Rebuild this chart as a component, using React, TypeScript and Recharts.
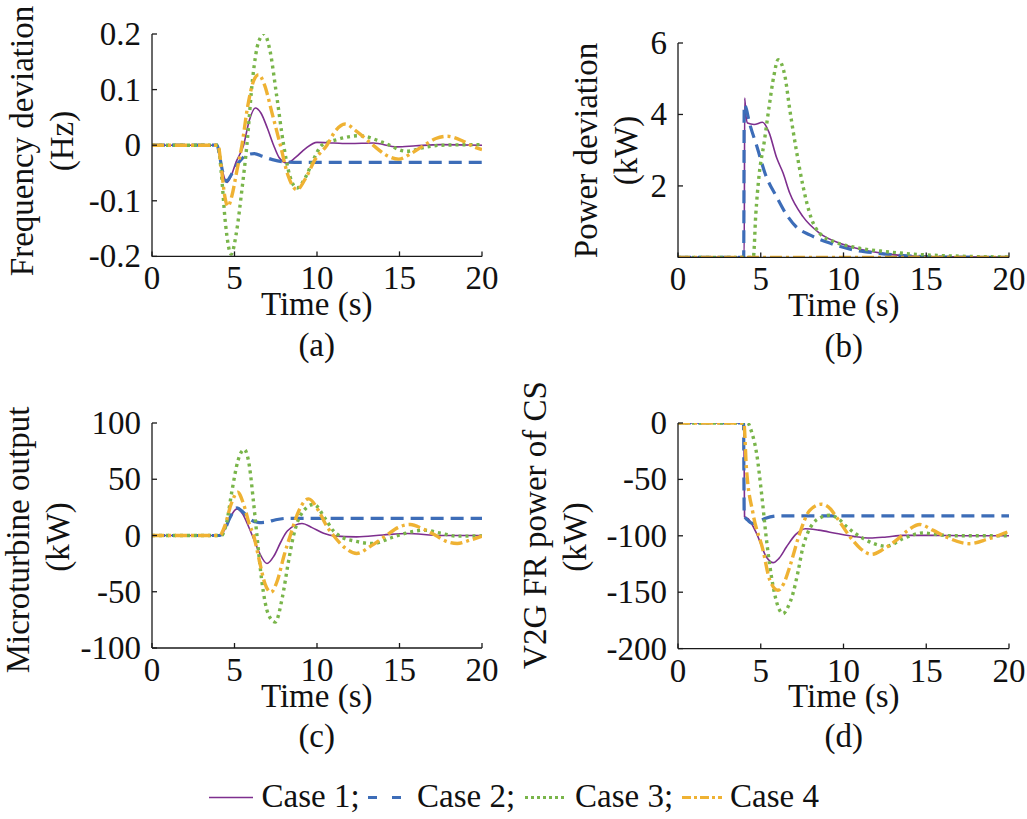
import React from 'react';
import { LineChart, Line, XAxis, YAxis } from 'recharts';

type Pt = [number, number];

// ---------- tick labels ----------
const TIME_TICKS = [0, 5, 10, 15, 20];
const FREQ_TICKS = [-0.2, -0.1, 0, 0.1, 0.2];
const POWER_TICKS = [2, 4, 6];
const MT_TICKS = [-100, -50, 0, 50, 100];
const V2G_TICKS = [-200, -150, -100, -50, 0];
const CASE_NAMES = ['Case 1;', 'Case 2;', 'Case 3;', 'Case 4'];

// ---------- (a) frequency deviation (Hz) ----------
const freqCase1: Pt[] = [[0,0],[3.95,0],[4.1,-0.02],[4.3,-0.05],[4.55,-0.067],[4.8,-0.055],[5.1,-0.03],[5.55,0],[5.9,0.045],[6.26,0.067],[6.6,0.058],[7.0,0.03],[7.37,0],[7.7,-0.022],[8.18,-0.032],[8.7,-0.022],[9.3,-0.006],[10.0,0.005],[11,0.004],[12,0.003],[13.4,0.004],[14.85,-0.003],[16,-0.001],[17.5,0.001],[20,0]];
const freqCase2: Pt[] = [[0,0],[3.95,0],[4.1,-0.02],[4.3,-0.05],[4.5,-0.065],[4.75,-0.056],[5.0,-0.042],[5.4,-0.026],[5.8,-0.017],[6.2,-0.015],[6.7,-0.02],[7.3,-0.026],[8,-0.03],[9,-0.031],[20,-0.031]];
const freqCase3: Pt[] = [[0,0],[4.0,0],[4.2,-0.05],[4.45,-0.14],[4.8,-0.196],[5.1,-0.16],[5.45,-0.08],[5.75,0],[6.1,0.12],[6.45,0.185],[6.8,0.2],[7.15,0.17],[7.55,0.09],[7.98,0],[8.35,-0.055],[8.79,-0.077],[9.3,-0.058],[9.8,-0.025],[10.3,0],[11.2,0.01],[12.6,0.017],[14,0.005],[15.45,-0.011],[16.5,-0.004],[17.5,0],[20,0.001]];
const freqCase4: Pt[] = [[0,0],[4.0,0],[4.2,-0.04],[4.4,-0.09],[4.6,-0.11],[4.85,-0.09],[5.15,-0.045],[5.45,0],[5.8,0.07],[6.15,0.115],[6.46,0.127],[6.8,0.11],[7.3,0.055],[7.78,0],[8.25,-0.055],[8.79,-0.08],[9.3,-0.06],[9.9,-0.025],[10.6,0],[11.1,0.025],[11.7,0.038],[12.4,0.025],[13.4,0],[14.2,-0.018],[14.95,-0.025],[15.7,-0.015],[16.5,0],[17.2,0.012],[17.9,0.016],[18.8,0.008],[19.5,-0.003],[20,-0.008]];

// ---------- (b) power deviation (kW) ----------
const powCase1: Pt[] = [[0,0],[4.0,0],[4.03,4.46],[4.1,4.0],[4.2,3.76],[4.6,3.72],[5.1,3.78],[5.5,3.5],[5.95,2.8],[6.35,2.36],[6.75,1.8],[7.55,1.14],[8.55,0.68],[10,0.36],[11.6,0.17],[13.6,0.05],[15.6,0.02],[20,0.005]];
const powCase2: Pt[] = [[0,0],[3.97,0],[4.0,4.27],[4.1,4.2],[4.3,3.8],[4.75,3.13],[5.3,2.3],[5.95,1.7],[6.55,1.2],[7.15,0.85],[7.96,0.63],[9.17,0.4],[10.4,0.23],[12,0.12],[13.6,0.05],[15,0.02],[20,0]];
const powCase3: Pt[] = [[0,0],[4.55,0],[4.7,1.2],[4.9,2.3],[5.2,3.2],[5.5,4.2],[5.8,5.1],[6.05,5.53],[6.45,5.1],[6.75,4.15],[7.15,3.0],[7.55,2.0],[8.05,1.1],[8.55,0.68],[9.55,0.42],[10.8,0.27],[12.6,0.16],[14.6,0.08],[16.6,0.04],[20,0.01]];
const powCase4: Pt[] = [[0,0],[20,0]];

// ---------- (c) microturbine output (kW) ----------
const mtCase1: Pt[] = [[0,0],[4.1,0],[4.4,5],[4.7,15],[5.15,23.7],[5.5,19],[5.85,8],[6.16,-3],[6.5,-15],[6.97,-24.9],[7.4,-18],[7.8,-6],[8.2,4],[9.09,10.7],[9.7,7],[10.4,2],[11,-0.3],[12.4,-1.2],[14,0.5],[15.45,1.8],[17.5,0],[20,0]];
const mtCase2: Pt[] = [[0,0],[4.1,0],[4.4,5],[4.7,15],[5.15,24.5],[5.5,21],[6.0,14],[6.5,11.5],[6.9,11.8],[7.5,14],[8.2,15.3],[9,15.2],[20,15.2]];
const mtCase3: Pt[] = [[0,0],[4.2,0],[4.5,10],[4.85,40],[5.2,66],[5.59,76.4],[5.9,62],[6.15,30],[6.36,0],[6.65,-40],[7.05,-70],[7.47,-77],[7.9,-55],[8.25,-25],[8.58,0],[9.0,18],[9.8,27.6],[10.5,15],[11.0,4],[11.4,-0.6],[12.3,-5],[13.4,-7.1],[14.5,-2],[15.5,2.5],[16.5,4.7],[17.5,2],[18.5,-0.6],[20,-0.3]];
const mtCase4: Pt[] = [[0,0],[4.1,0],[4.4,8],[4.8,28],[5.19,38.5],[5.55,28],[5.9,10],[6.16,0],[6.5,-22],[6.85,-43],[7.21,-50.4],[7.6,-40],[8.0,-18],[8.38,0],[8.9,22],[9.49,32.6],[10.1,22],[10.6,8],[11.0,0],[11.7,-11],[12.4,-16],[13.3,-9],[14.2,0],[14.9,7],[15.65,9.8],[16.4,6],[17.2,0],[17.8,-5],[18.5,-7.1],[19.3,-4],[20,-0.6]];

// ---------- (d) V2G FR power of CS (kW) ----------
const v2gCase1: Pt[] = [[0,0],[3.98,0],[4.02,-83],[4.25,-85],[4.75,-98],[5.35,-119],[5.75,-123.8],[6.1,-120],[6.55,-110],[7.1,-99],[7.7,-93.7],[8.5,-95],[9.6,-98],[10.6,-100.5],[11.6,-102],[12.6,-101],[13.6,-99.6],[15.6,-99.6],[17.5,-100],[20,-100]];
const v2gCase2: Pt[] = [[0,0],[3.96,0],[4.0,-82],[4.2,-86],[4.5,-89],[4.9,-87],[5.3,-84.5],[6.1,-82.3],[20,-82.3]];
const v2gCase3: Pt[] = [[0,0],[4.2,0],[4.45,-8],[4.75,-27],[5.05,-62.6],[5.35,-104],[5.75,-145],[6.05,-163],[6.35,-169],[6.65,-163],[6.95,-151],[7.25,-132],[7.55,-110],[7.85,-97],[8.16,-89],[8.6,-84],[9.17,-81.8],[9.7,-85],[10.2,-92],[11.2,-102.5],[12.6,-109.3],[13.6,-102.5],[14.8,-97.5],[15.7,-99],[16.6,-100],[20,-100]];
const v2gCase4: Pt[] = [[0,0],[3.98,0],[4.13,-39],[4.53,-80],[5.14,-112.9],[5.54,-139],[6.04,-148.3],[6.4,-142],[6.75,-127.6],[7.35,-98],[7.96,-77.4],[8.66,-72],[9.2,-76],[9.57,-83.3],[10.4,-101],[11.0,-111],[11.7,-116.4],[12.4,-112],[13.2,-103.9],[13.9,-95],[14.6,-90],[15.4,-95],[16.2,-101],[17.6,-107],[18.7,-103],[19.9,-96.6]];

// ---------- styles ----------
const AXIS = '#1a1a1a';
const FONT_FAMILY = '"Liberation Serif", "Times New Roman", Times, serif';
const FS = 33;
const SERIES = [
  { stroke: '#7E2F8E', strokeWidth: 1.6, dash: undefined as string | undefined, legendDash: undefined as string | undefined },
  { stroke: '#3D6DB8', strokeWidth: 3.2, dash: '13 7', legendDash: '9 15' },
  { stroke: '#79B54A', strokeWidth: 3.4, dash: '3 4', legendDash: '3 3' },
  { stroke: '#EFB233', strokeWidth: 3.4, dash: '12 4 3 4', legendDash: '9 3 3 3' },
];

const toRows = (pts: Pt[]) => pts.map(([t, v]) => ({ t, v }));

const YTick = (props: any) => {
  const { x, y, payload } = props;
  return (
    <g>
      <line x1={x} x2={x + 5} y1={y} y2={y} stroke={AXIS} strokeWidth={1.3} />
      <text x={x - 11} y={y} textAnchor="end" dominantBaseline="central" fontFamily={FONT_FAMILY} fontSize={FS} fill="#111">
        {String(payload.value)}
      </text>
    </g>
  );
};

const XTick = (props: any) => {
  const { x, y, payload } = props;
  return (
    <g>
      <line x1={x} x2={x} y1={y} y2={y - 5} stroke={AXIS} strokeWidth={1.3} />
      <text x={x} y={y + 33} textAnchor="middle" fontFamily={FONT_FAMILY} fontSize={FS} fill="#111">
        {String(payload.value)}
      </text>
    </g>
  );
};

type PanelProps = {
  rect: [number, number, number, number]; // plot x0, x1, y0, y1 in page px
  yDomain: [number, number];
  yTicks: number[];
  series: Pt[][];
};

function Panel({ rect, yDomain, yTicks, series }: PanelProps) {
  const [x0, x1, y0, y1] = rect;
  const YW = 60;
  const XH = 40;
  const L = x0 - 82;
  const T = y0 - 20;
  const W = x1 + 26 - L;
  const H = y1 + 52 - T;
  const margin = { left: x0 - L - YW, top: y0 - T, right: L + W - x1, bottom: T + H - y1 - XH };
  return (
    <div style={{ position: 'absolute', left: L, top: T, width: W, height: H }}>
      <LineChart width={W} height={H} margin={margin}>
        <XAxis
          type="number"
          dataKey="t"
          domain={[0, 20]}
          ticks={TIME_TICKS}
          interval={0}
          height={XH}
          tickSize={0}
          tickMargin={0}
          tick={<XTick />}
          axisLine={{ stroke: AXIS, strokeWidth: 1.3 }}
          tickLine={false}
          allowDataOverflow
        />
        <YAxis
          type="number"
          dataKey="v"
          domain={yDomain}
          ticks={yTicks}
          interval={0}
          width={YW}
          tickSize={0}
          tickMargin={0}
          tick={<YTick />}
          axisLine={{ stroke: AXIS, strokeWidth: 1.3 }}
          tickLine={false}
          allowDataOverflow
        />
        {series.map((pts, i) => (
          <Line
            key={i}
            data={toRows(pts)}
            dataKey="v"
            type="monotone"
            stroke={SERIES[i].stroke}
            strokeWidth={SERIES[i].strokeWidth}
            strokeDasharray={SERIES[i].dash}
            dot={false}
            activeDot={false}
            isAnimationActive={false}
          />
        ))}
      </LineChart>
    </div>
  );
}

const txt = { fontFamily: FONT_FAMILY, fontSize: FS, fill: '#111' } as const;

function VTitle({ x, y, children }: { x: number; y: number; children: React.ReactNode }) {
  return (
    <text transform={`translate(${x},${y}) rotate(-90)`} textAnchor="middle" dominantBaseline="central" {...txt}>
      {children}
    </text>
  );
}

const PLOT_A: [number, number, number, number] = [151.7, 481.7, 34.3, 256.7];
const PLOT_B: [number, number, number, number] = [678.3, 1009.3, 43.3, 257.7];
const PLOT_C: [number, number, number, number] = [151.7, 481.7, 423.3, 648.3];
const PLOT_D: [number, number, number, number] = [678.3, 1009.3, 422.7, 648.3];

const LEGEND_LINES: [number, number][] = [[209, 253], [368, 404], [525, 567], [682, 722]];
const LEGEND_TEXT_X = [261.5, 417, 575, 730];

export default function App() {
  return (
    <div style={{ position: 'absolute', left: 0, top: 0, width: 1027, height: 819, background: '#fff', overflow: 'hidden' }}>
      <Panel rect={PLOT_A} yDomain={[-0.2, 0.2]} yTicks={FREQ_TICKS} series={[freqCase1, freqCase2, freqCase3, freqCase4]} />
      <Panel rect={PLOT_B} yDomain={[0, 6]} yTicks={POWER_TICKS} series={[powCase1, powCase2, powCase3, powCase4]} />
      <Panel rect={PLOT_C} yDomain={[-100, 100]} yTicks={MT_TICKS} series={[mtCase1, mtCase2, mtCase3, mtCase4]} />
      <Panel rect={PLOT_D} yDomain={[-200, 0]} yTicks={V2G_TICKS} series={[v2gCase1, v2gCase2, v2gCase3, v2gCase4]} />
      <svg width={1027} height={819} style={{ position: 'absolute', left: 0, top: 0, pointerEvents: 'none' }}>
        <VTitle x={22} y={141}>Frequency deviation</VTitle>
        <VTitle x={62} y={141}>(Hz)</VTitle>
        <VTitle x={586} y={150.5}>Power deviation</VTitle>
        <VTitle x={626} y={150.5}>(kW)</VTitle>
        <VTitle x={18} y={540}>Microturbine output</VTitle>
        <VTitle x={58} y={537}>(kW)</VTitle>
        <VTitle x={535} y={525}>V2G FR power of CS</VTitle>
        <VTitle x={575} y={537}>(kW)</VTitle>

        <text x={(PLOT_A[0] + PLOT_A[1]) / 2} y={PLOT_A[3] + 58.5} textAnchor="middle" {...txt}>Time (s)</text>
        <text x={(PLOT_A[0] + PLOT_A[1]) / 2} y={PLOT_A[3] + 99} textAnchor="middle" {...txt}>(a)</text>
        <text x={(PLOT_B[0] + PLOT_B[1]) / 2} y={PLOT_B[3] + 58.5} textAnchor="middle" {...txt}>Time (s)</text>
        <text x={(PLOT_B[0] + PLOT_B[1]) / 2} y={PLOT_B[3] + 99} textAnchor="middle" {...txt}>(b)</text>
        <text x={(PLOT_C[0] + PLOT_C[1]) / 2} y={PLOT_C[3] + 58.5} textAnchor="middle" {...txt}>Time (s)</text>
        <text x={(PLOT_C[0] + PLOT_C[1]) / 2} y={PLOT_C[3] + 99} textAnchor="middle" {...txt}>(c)</text>
        <text x={(PLOT_D[0] + PLOT_D[1]) / 2} y={PLOT_D[3] + 58.5} textAnchor="middle" {...txt}>Time (s)</text>
        <text x={(PLOT_D[0] + PLOT_D[1]) / 2} y={PLOT_D[3] + 99} textAnchor="middle" {...txt}>(d)</text>

        {CASE_NAMES.map((name, i) => (
          <g key={name}>
            <line
              x1={LEGEND_LINES[i][0]}
              x2={LEGEND_LINES[i][1]}
              y1={797.5}
              y2={797.5}
              stroke={SERIES[i].stroke}
              strokeWidth={i === 0 ? 1.6 : 3.2}
              strokeDasharray={SERIES[i].legendDash}
            />
            <text x={LEGEND_TEXT_X[i]} y={807} {...txt}>{name}</text>
          </g>
        ))}
      </svg>
    </div>
  );
}
